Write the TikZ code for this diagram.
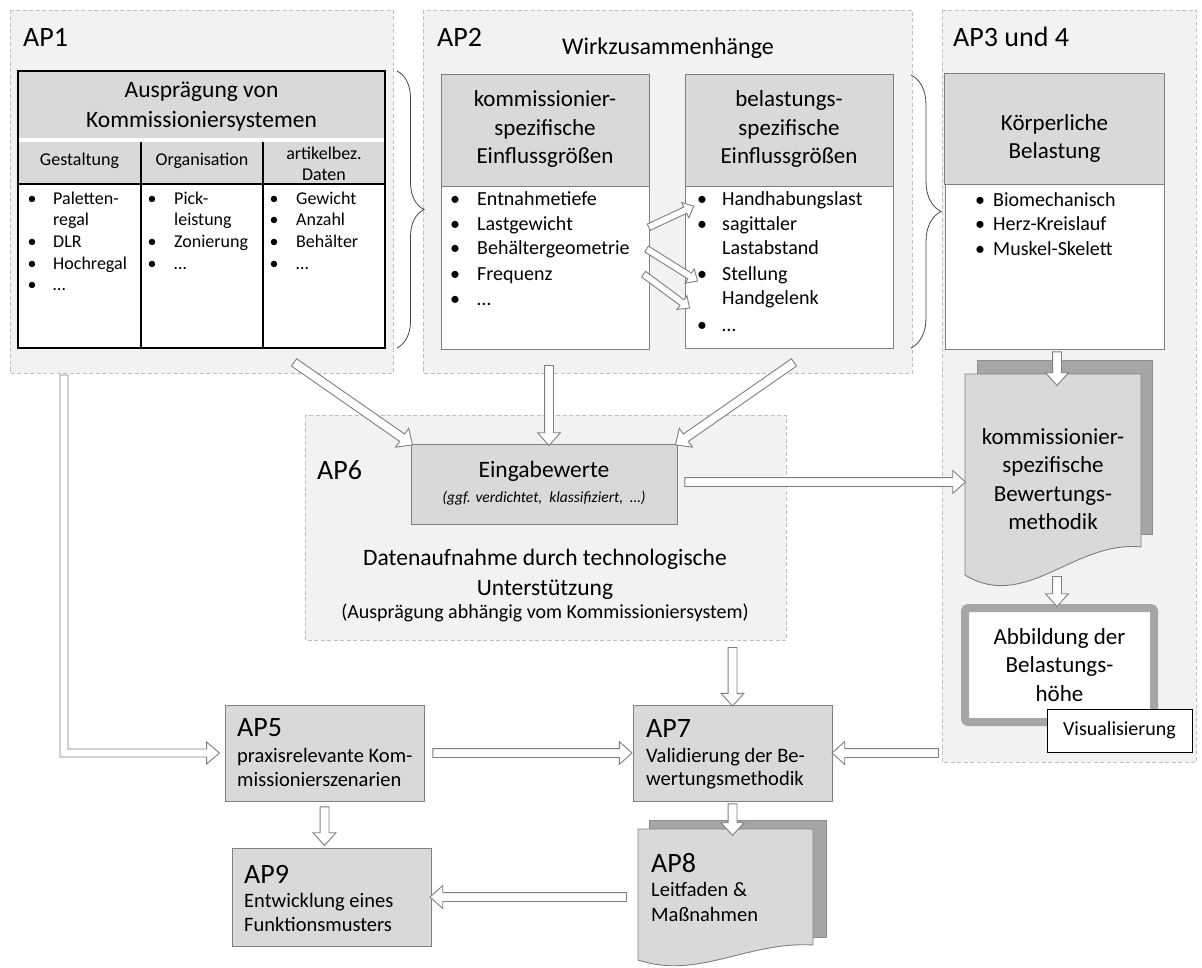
\documentclass[tikz,border=0pt]{standalone}
\usepackage{fontspec}
\setmainfont{Carlito}
\usepackage{tikz}
\usetikzlibrary{calc, shapes.arrows, decorations.pathreplacing}
\definecolor{wpfill}{RGB}{242,242,242}
\definecolor{wpdash}{RGB}{191,191,191}
\definecolor{headgray}{RGB}{217,217,217}
\definecolor{sheetgray}{RGB}{166,166,166}
\definecolor{framegray}{RGB}{127,127,127}
\definecolor{bracegray}{RGB}{70,70,70}

\newcommand{\hollowarrow}[3][]{%
  \path let \p1=($(#3)-(#2)$), \n1={atan2(\y1,\x1)}, \n2={veclen(\x1,\y1)} in
    node[hollow, #1, minimum height=\n2, rotate=\n1] at ($(#2)!0.5!(#3)$) {};}

\begin{document}
\begin{tikzpicture}[x=1pt, y=-1pt,
  wp/.style={fill=wpfill, draw=wpdash, line width=0.8pt, dash pattern=on 4pt off 2.5pt},
  tabline/.style={black, line width=1.3pt},
  listbox/.style={draw=framegray, line width=0.9pt, fill=white},
  apbox/.style={draw=framegray, line width=0.9pt, fill=headgray, inner sep=0pt},
  aplabel/.style={font=\fontsize{28}{32}\selectfont, anchor=west, inner sep=0pt},
  headtext/.style={font=\fontsize{23}{28.5}\selectfont, align=center, inner sep=0pt},
  listitem/.style={font=\fontsize{20}{24}\selectfont, anchor=west, inner sep=0pt, text height=0.7em, text depth=0.2em},
  tabitem/.style={listitem, font=\fontsize{18}{21}\selectfont},
  aptext/.style={listitem, font=\fontsize{20.5}{24}\selectfont},
  hollow/.style={single arrow, draw=framegray, fill=white, line width=0.9pt, inner xsep=0pt, inner ysep=4pt, outer sep=0pt, single arrow head extend=7pt, single arrow tip angle=84},
  thinhollow/.style={hollow, inner ysep=3pt, single arrow head extend=5pt},
  curly/.style={draw=bracegray, line width=0.8pt, decorate, decoration={brace, amplitude=#1}}
]
\useasboundingbox (0,0) rectangle (1202,968);

% --- AP1: Auspraegung von Kommissioniersystemen ---
\draw[wp] (10,10) rectangle (393,373);
\node[aplabel] (ap1) at (23,37) {AP1};
\fill[white] (18,71) rectangle (385,348);
\fill[headgray] (18,71) rectangle (385,138);
\fill[headgray] (18,142) rectangle (385,184);
\draw[tabline] (18,71) rectangle (385,348);
\draw[tabline] (18,184) -- (385,184);
\foreach \x in {141,263} \draw[tabline] (\x,142) -- (\x,348);
\node[headtext, font=\fontsize{23.5}{30}\selectfont] (auspr) at (201.5,107) {Ausprägung von\\Kommissioniersystemen};
\node[tabitem, anchor=center] (gestalt) at (79.5,163) {Gestaltung};
\node[tabitem, anchor=center] (orga) at (202,163) {Organisation};
\node[headtext, font=\fontsize{18}{21}\selectfont] (artikel) at (324,163.5) {artikelbez.\\Daten};
\foreach \x/\y in {32/202, 32/245, 32/267, 32/288, 152/202, 152/245, 152/267, 274/202, 274/223, 274/245, 274/267}
  \node[tabitem, anchor=center] at (\x,\y) {\textbullet};
\foreach \x/\y/\t in {53/202/Paletten-, 53/223/regal, 53/245/DLR, 53/267/Hochregal, 53/288/…,
  174/202/Pick-, 174/223/leistung, 174/245/Zonierung, 174/267/…,
  296/202/Gewicht, 296/223/Anzahl, 296/245/Behälter, 296/267/…}
  \node[tabitem] at (\x,\y) {\t};

% --- AP2: Wirkzusammenhaenge ---
\draw[wp] (423,10) rectangle (912,373);
\node[aplabel] (ap2) at (437,37) {AP2};
\node[headtext, font=\fontsize{24}{28}\selectfont] (wirk) at (668,48) {Wirkzusammenhänge};
\draw[listbox] (441,74) rectangle (649,349);
\draw[listbox, fill=headgray] (441,74) rectangle (649,186);
\node[headtext] (kspez) at (545,129) {kommissionier-\\spezifische\\Einflussgrößen};
\draw[listbox] (685,74) rectangle (893,348);
\draw[listbox, fill=headgray] (685,74) rectangle (893,186);
\node[headtext] (bspez) at (789,129) {belastungs-\\spezifische\\Einflussgrößen};
\foreach \y in {203,228,252,278,303} \node[listitem, anchor=center] at (455,\y) {\textbullet};
\foreach \y/\t in {203/Entnahmetiefe, 228/Lastgewicht, 252/Behältergeometrie, 278/Frequenz, 303/…}
  \node[listitem] at (477,\y) {\t};
\foreach \y in {203,228,278,329} \node[listitem, anchor=center] at (702,\y) {\textbullet};
\foreach \y/\t in {203/Handhabungslast, 228/sagittaler, 252/Lastabstand, 278/Stellung, 302/Handgelenk, 329/…}
  \node[listitem] at (722,\y) {\t};
\draw[curly=27pt] (397,71) -- (397,348);
\draw[curly=30pt] (911,75) -- (911,348);

% --- AP3 und 4: Koerperliche Belastung ---
\draw[wp] (942,10) rectangle (1196,762);
\node[aplabel] (ap3) at (953,37) {AP3 und 4};
\node[listbox, minimum width=219, minimum height=275, inner sep=0pt] (koerp) at (1054.5,211.5) {};
\draw[listbox, fill=headgray] (koerp.north west) rectangle (1164,184);
\node[headtext] (koerphead) at (1054.5,138.5) {Körperliche\\Belastung};
\foreach \y in {204,228,253} \node[listitem, anchor=center] at (980,\y) {\textbullet};
\foreach \y/\t in {204/Biomechanisch, 228/Herz-Kreislauf, 253/Muskel-Skelett}
  \node[listitem] at (993,\y) {\t};
\filldraw[fill=sheetgray, draw=sheetgray!85!black, line width=0.6pt] (977,360) rectangle (1152,534);
\filldraw[fill=headgray, draw=framegray, line width=0.9pt] (965,374) -- (1141,374) -- (1141,547)
  .. controls (1075,540) and (1025,612) .. (965,575) -- cycle;
\node[headtext] (bewert) at (1053,479) {kommissionier-\\spezifische\\Bewertungs-\\methodik};
\node[draw=sheetgray, line width=8pt, rounded corners=3pt, fill=white, minimum width=189, minimum height=114,
  headtext] (abb) at (1059.5,665) {Abbildung der\\Belastungs-\\höhe};
\node[draw=black, fill=white, line width=1pt, minimum width=145, minimum height=43,
  font=\fontsize{20}{24}\selectfont] (visu) at (1119.5,730.5) {Visualisierung};

% --- AP6: Datenaufnahme ---
\draw[wp] (305,415) rectangle (786,640);
\node[aplabel] (ap6) at (317,470) {AP6};
\node[apbox, minimum width=266, minimum height=80] (eing) at (544,484) {};
\node[listitem, anchor=center, font=\fontsize{23.5}{28}\selectfont] (eingtext) at (544,475) {Eingabewerte};
\node[listitem, anchor=center, font=\fontsize{15.5}{18}\selectfont\itshape] (eingsub) at (544,500) {(ggf. verdichtet,~~klassifiziert,~~…)};
\node[headtext, font=\fontsize{23.5}{30}\selectfont] (daten) at (545,574) {Datenaufnahme durch technologische\\Unterstützung};
\node[listitem, anchor=center] (auspsys) at (545,616) {(Ausprägung abhängig vom Kommissioniersystem)};

% --- AP5, AP7, AP9, AP8 ---
\node[apbox, minimum width=199, minimum height=96] (ap5) at (324.5,753) {};
\node[aplabel] at (237,728) {AP5};
\node[aptext] at (237,760) {praxisrelevante Kom-};
\node[aptext] at (237,784) {missionierszenarien};
\node[apbox, minimum width=199, minimum height=96] (ap7) at (732.5,753) {};
\node[aplabel] at (646,729) {AP7};
\node[aptext] at (646,760) {Validierung der Be-};
\node[aptext] at (646,783) {wertungsmethodik};
\node[apbox, minimum width=199, minimum height=98] (ap9) at (331.5,897) {};
\node[aplabel] at (244,874) {AP9};
\node[aptext] at (244,905) {Entwicklung eines};
\node[aptext] at (244,929) {Funktionsmusters};
\filldraw[fill=sheetgray, draw=sheetgray!85!black, line width=0.6pt] (649,820) rectangle (826,937);
\filldraw[fill=headgray, draw=framegray, line width=0.9pt] (638,829) -- (813,829) -- (813,945)
  .. controls (748,941) and (698,980) .. (638,960) -- cycle;
\node[aplabel] (ap8) at (651,863) {AP8};
\node[aptext] at (651,894) {Leitfaden \&};
\node[aptext] at (651,919) {Maßnahmen};

% --- Arrows ---
\coordinate (d1s) at (292,361);
\coordinate (d2s) at (549,363);
\coordinate (d2e) at (549,443);
\coordinate (d3s) at (796,361);
\coordinate (eingout) at ($(eing.east)+(5,-2)$);
\coordinate (bewin) at (963,482);
\coordinate (ap6out) at (732.5,645);
\coordinate (ap7top) at ($(ap7.north)+(0,-1)$);
\coordinate (ap5out) at ($(ap5.east)+(6,0)$);
\coordinate (ap7left) at ($(ap7.west)+(-3,0)$);
\coordinate (ap3out) at (941,753);
\coordinate (ap7right) at ($(ap7.east)+(2,0)$);
\coordinate (ap8in) at (732.5,833);
\coordinate (ap8out) at (629,897);
\coordinate (ap9right) at ($(ap9.east)+(1,0)$);
\coordinate (ap5bot) at ($(ap5.south)+(0,3)$);
\coordinate (ap9top) at (324.5,843);
\coordinate (koerpout) at ($(koerp.south)+(2.5,0)$);
\coordinate (bewtop) at (1057,383);
\coordinate (bewbot) at (1057,574);
\coordinate (abbin) at ($(abb.north)+(-2.5,0)$);
\hollowarrow{d1s}{eing.north west}
\hollowarrow{d2s}{d2e}
\hollowarrow{d3s}{eing.north east}
\hollowarrow{eingout}{bewin}
\hollowarrow{ap6out}{ap7top}
\hollowarrow{ap5out}{ap7left}
\hollowarrow{ap3out}{ap7right}
\hollowarrow{ap7.south}{ap8in}
\hollowarrow{ap8out}{ap9right}
\hollowarrow{ap5bot}{ap9top}
\hollowarrow{koerpout}{bewtop}
\hollowarrow{bewbot}{abbin}
\coordinate (s1a) at (647,228); \coordinate (s1b) at (692,207);
\coordinate (s2a) at (645,248); \coordinate (s2b) at (696,280);
\coordinate (s3a) at (642,273); \coordinate (s3b) at (688,307);
\hollowarrow[thinhollow]{s1a}{s1b}
\hollowarrow[thinhollow]{s2a}{s2b}
\hollowarrow[thinhollow]{s3a}{s3b}
\coordinate (ltip) at ($(ap5.west)+(-5,0)$);
\draw[draw=framegray, fill=white, line width=0.9pt] (60,375) |- ($(ltip)+(-13,4)$) -- ++(0,7) -- (ltip)
  -- ++(-13,-11) -- ++(0,7) -| (68,375) -- cycle;

\end{tikzpicture}
\end{document}
